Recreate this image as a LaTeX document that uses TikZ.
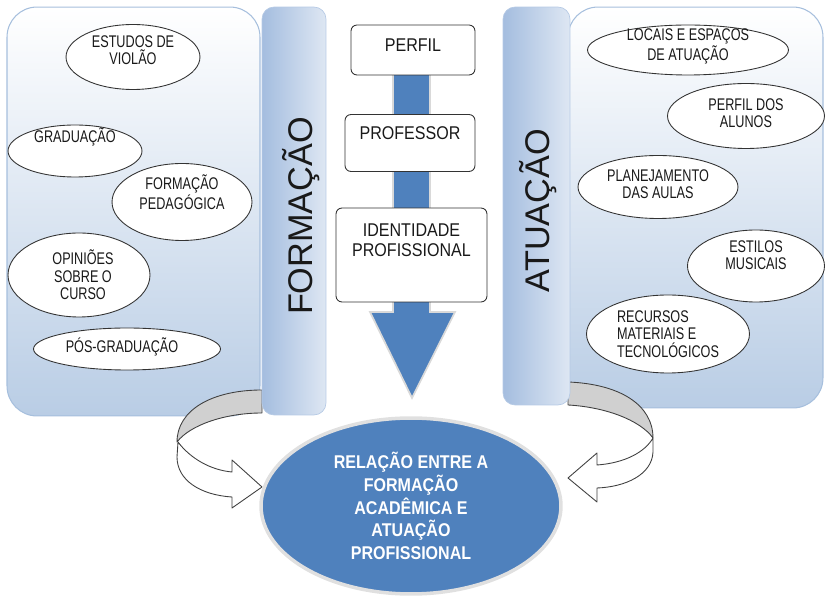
\documentclass[tikz,border=0pt]{standalone}
\usepackage{fontspec}
\setmainfont{Liberation Sans}
\newfontfamily\narrowfont{Liberation Sans}[FakeStretch=0.87]
\newfontfamily\ovalfont{Liberation Sans}[FakeStretch=0.75]
\usetikzlibrary{shapes.geometric}

\definecolor{arrowblue}{HTML}{4F81BD}
\definecolor{panelblue}{HTML}{B9CDE5}
\definecolor{paneledge}{HTML}{A6BFDD}
\definecolor{bardark}{HTML}{A4BDDF}
\definecolor{barlight}{HTML}{DEE7F3}
\definecolor{bandgray}{HTML}{D0D0D0}

\tikzset{
    panel/.style={draw=paneledge, line width=0.6pt, top color=white, bottom color=panelblue, rounded corners=0.6cm},
    bar/.style={draw=bardark!80, line width=0.4pt, left color=bardark, right color=barlight, rounded corners=0.24cm},
    vlabel/.style={font=\fontsize{19.5}{20}\selectfont, rotate=90, text=black!90},
    oval/.style={ellipse, draw=black!80, fill=white, line width=0.5pt, inner sep=0pt},
    ovaltxt/.style={font=\ovalfont\fontsize{9.6}{10}\selectfont, align=center, text=black!90},
    card/.style={rectangle, draw=black!80, fill=white, line width=0.5pt, rounded corners=0.12cm, inner sep=0pt},
    cardtxt/.style={font=\narrowfont\fontsize{10.5}{11.5}\selectfont, align=center, text=black!90},
    band/.style={draw=black!75, line width=0.5pt, line join=round}
}

\begin{document}
\begin{tikzpicture}[x=0.02cm, y=-0.02cm]
    \useasboundingbox (0,0) rectangle (829,597);

    % panels
    \node[panel, minimum width=5.06cm, minimum height=8.18cm] (formpanel) at (133.5,211.5) {};
    \node[panel, minimum width=5.10cm, minimum height=8.02cm] (atuapanel) at (695.5,207.5) {};

    % curved arrows
    \draw[band, fill=bandgray] (262,390) .. controls (212,390) and (177,410) .. (177,442)
        .. controls (190,425) and (225,413) .. (262,413) -- cycle;
    \draw[band, fill=white] (178,442) .. controls (190,458) and (210,470) .. (232,472)
        -- (232,460) -- (262,487) -- (232,508) -- (232,497)
        .. controls (200,495) and (177,480) .. (177,457) -- cycle;

    \draw[band, fill=bandgray] (568,382) .. controls (620,384) and (653,405) .. (653,438)
        .. controls (640,420) and (605,407) .. (568,405) -- cycle;
    \draw[band, fill=white] (653,438) -- (653,452) .. controls (652,475) and (625,487) .. (597,488)
        -- (597,502) -- (568,478) -- (597,453) -- (597,465)
        .. controls (625,463) and (645,452) .. (653,438) -- cycle;

    % bars
    \node[bar, minimum width=1.28cm, minimum height=8.16cm,
        label={[vlabel, xshift=-0.1cm, yshift=-0.14cm]center:FORMAÇÃO}] (formbar) at (294,211) {};
    \node[bar, minimum width=1.34cm, minimum height=7.96cm,
        label={[vlabel, xshift=-0.09cm, yshift=-0.04cm]center:ATUAÇÃO}] (atuabar) at (536.5,206) {};

    % central arrow
    \coordinate (tip) at (412,398);
    \draw[draw=black!15, line width=1pt, fill=arrowblue, line join=miter]
        (393,60) -- (430,60) -- (430,312) -- (455,312) -- (tip) -- (370,312) -- (393,312) -- cycle;

    % boxes
    \node[card, minimum width=2.48cm, minimum height=1.0cm,
        label={[cardtxt, yshift=0.1cm]center:PERFIL}] (perfil) at (413,50) {};
    \node[card, minimum width=2.60cm, minimum height=1.14cm,
        label={[cardtxt, yshift=0.2cm]center:PROFESSOR}] (professor) at (410,143) {};
    \node[card, minimum width=3.02cm, minimum height=1.88cm,
        label={[cardtxt, yshift=0.3cm]center:{IDENTIDADE\\PROFISSIONAL}}] (identidade) at (411.5,255) {};

    % left ovals
    \node[oval, minimum width=2.68cm, minimum height=1.30cm,
        label={[ovaltxt, yshift=0.14cm]center:{ESTUDOS DE\\VIOLÃO}}] (violao) at (133,57) {};
    \node[oval, minimum width=2.68cm, minimum height=1.04cm,
        label={[ovaltxt, yshift=0.28cm]center:GRADUAÇÃO}] (graduacao) at (75,151) {};
    \node[oval, minimum width=2.80cm, minimum height=1.54cm,
        label={[ovaltxt, yshift=0.2cm]center:{FORMAÇÃO\\PEDAGÓGICA}}] (pedagogica) at (182,202) {};
    \node[oval, minimum width=2.84cm, minimum height=1.68cm,
        label={[ovaltxt, xshift=0.08cm]center:{OPINIÕES\\SOBRE O\\CURSO}}] (opinioes) at (79,275) {};
    \node[oval, minimum width=3.74cm, minimum height=0.84cm,
        label={[ovaltxt, xshift=-0.1cm, yshift=0.04cm]center:PÓS-GRADUAÇÃO}] (posgrad) at (127,349) {};

    % right ovals
    \node[oval, minimum width=4.02cm, minimum height=1.0cm,
        label={[ovaltxt, yshift=0.08cm]center:{LOCAIS E ESPAÇOS\\DE ATUAÇÃO}}] (locais) at (688,50) {};
    \node[oval, minimum width=3.14cm, minimum height=1.30cm,
        label={[ovaltxt, yshift=0.06cm]center:{PERFIL DOS\\ALUNOS}}] (alunos) at (746,116) {};
    \node[oval, minimum width=3.20cm, minimum height=1.26cm,
        label={[ovaltxt, yshift=0.06cm]center:{PLANEJAMENTO\\DAS AULAS}}] (aulas) at (658,187) {};
    \node[oval, minimum width=2.74cm, minimum height=1.44cm,
        label={[ovaltxt, yshift=0.22cm]center:{ESTILOS\\MUSICAIS}}] (estilos) at (756,266) {};
    \node[oval, minimum width=3.26cm, minimum height=1.56cm,
        label={[ovaltxt, align=left]center:{RECURSOS\\MATERIAIS E\\TECNOLÓGICOS}}] (recursos) at (668,334) {};

    % result
    \node[ellipse, draw=black!12, line width=2pt, fill=arrowblue, inner sep=0pt,
        minimum width=6.0cm, minimum height=3.52cm, text=white, align=center,
        font=\narrowfont\bfseries\fontsize{10.5}{13}\selectfont] (relacao) at (411,506)
        {RELAÇÃO ENTRE A\\FORMAÇÃO\\ACADÊMICA E\\ATUAÇÃO\\PROFISSIONAL};
\end{tikzpicture}
\end{document}
